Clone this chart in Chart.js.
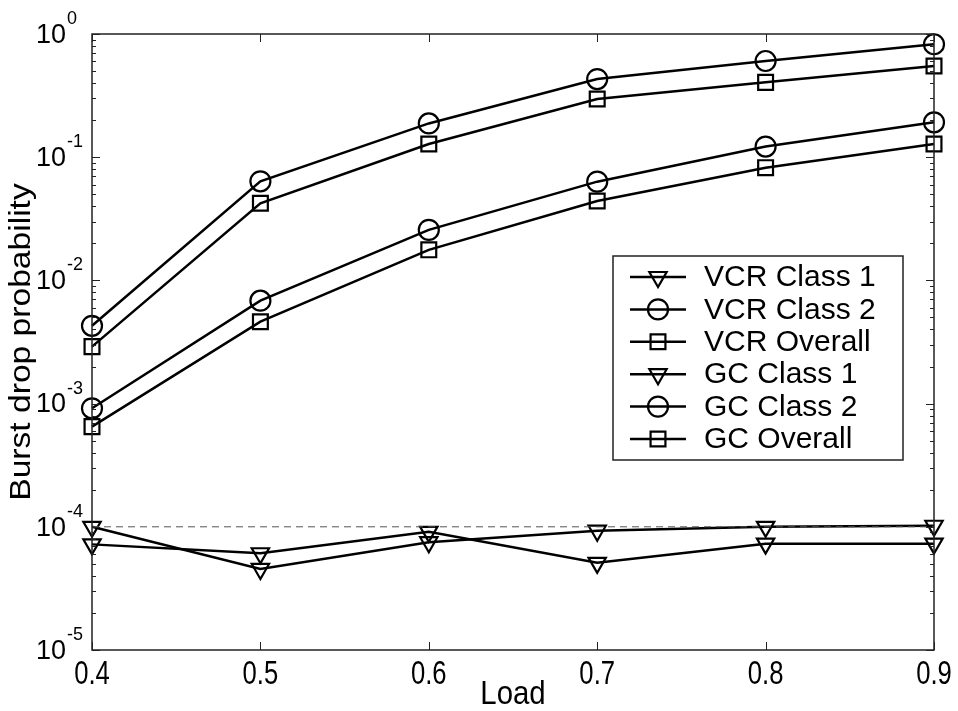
<!DOCTYPE html>
<html>
<head>
<meta charset="utf-8">
<script src="https://cdn.jsdelivr.net/npm/chart.js@4.4.1/dist/chart.umd.min.js"></script>
<style>
  html, body { margin: 0; padding: 0; background: #fff; }
  #wrap { width: 958px; height: 711px; position: relative; }
</style>
</head>
<body>
<div id="wrap"><canvas id="burstChart"></canvas></div>
<script>
// values
const loads = [0.4, 0.5, 0.6, 0.7, 0.8, 0.9];
const vcrClass1 = [1.0e-4, 4.55e-5, 7.5e-5, 9.3e-5, 1.0e-4, 1.02e-4];
const vcrClass2 = [0.00428, 0.0637, 0.188, 0.431, 0.604, 0.826];
const vcrOverall = [0.0029, 0.0423, 0.128, 0.297, 0.405, 0.55];
const gcClass1 = [7.2e-5, 6.1e-5, 9.1e-5, 5.1e-5, 7.3e-5, 7.3e-5];
const gcClass2 = [0.000916, 0.00684, 0.0257, 0.0633, 0.122, 0.192];
const gcOverall = [0.00065, 0.00462, 0.0177, 0.0441, 0.0822, 0.128];
const refLevel = [1e-4, 1e-4, 1e-4, 1e-4, 1e-4, 1e-4];

const xTicks = [0.4, 0.5, 0.6, 0.7, 0.8, 0.9];
const yTicks = [1e-5, 1e-4, 1e-3, 1e-2, 1e-1, 1];
const yExponents = ['-5', '-4', '-3', '-2', '-1', '0'];

const FONT = '"Liberation Sans", Arial, Helvetica, sans-serif';
const radiusFor = { circle: 10, rect: 10.5, triangle: 10 };

function series(label, values, style) {
    return {
        label: label,
        data: values.map((v, i) => ({ x: loads[i], y: v })),
        borderColor: '#000',
        borderWidth: 2.5,
        pointStyle: style,
        pointRadius: radiusFor[style],
        pointRotation: style === 'triangle' ? 180 : 0,
        pointBorderWidth: 2.2,
        pointBorderColor: '#000',
        pointBackgroundColor: 'rgba(0,0,0,0)',
        tension: 0,
        clip: false
    };
}

const datasets = [
    {
        label: 'ref',
        data: refLevel.map((v, i) => ({ x: loads[i], y: v })),
        borderColor: '#555',
        borderWidth: 1,
        borderDash: [7, 5],
        pointRadius: 0,
        clip: false
    },
    series('VCR Class 1', vcrClass1, 'triangle'),
    series('VCR Class 2', vcrClass2, 'circle'),
    series('VCR Overall', vcrOverall, 'rect'),
    series('GC Class 1', gcClass1, 'triangle'),
    series('GC Class 2', gcClass2, 'circle'),
    series('GC Overall', gcOverall, 'rect')
];

function marker(ctx, style, x, y) {
    const r = radiusFor[style];
    ctx.beginPath();
    if (style === 'circle') {
        ctx.arc(x, y, r, 0, Math.PI * 2);
    } else if (style === 'rect') {
        const s = r * Math.SQRT1_2;
        ctx.rect(x - s, y - s, 2 * s, 2 * s);
    } else {
        ctx.moveTo(x, y + r);
        ctx.lineTo(x - r * 0.866, y - r * 0.5);
        ctx.lineTo(x + r * 0.866, y - r * 0.5);
        ctx.closePath();
    }
    ctx.stroke();
}

// text a bit taller than wide, like the exported figure
function tallText(ctx, txt, x, y, sx, sy) {
    ctx.save();
    ctx.translate(x, y);
    ctx.scale(sx, sy);
    ctx.fillText(txt, 0, 0);
    ctx.restore();
}

const matlabAxes = {
    id: 'matlabAxes',
    afterDraw(chart) {
        const ctx = chart.ctx;
        const a = chart.chartArea;
        const xs = chart.scales.x, ys = chart.scales.y;
        ctx.save();
        ctx.strokeStyle = '#222';
        ctx.lineWidth = 1.5;
        ctx.strokeRect(a.left, a.top, a.right - a.left, a.bottom - a.top);

        // inward ticks
        ctx.lineWidth = 1;
        ctx.beginPath();
        xTicks.forEach(t => {
            const px = Math.round(xs.getPixelForValue(t)) + 0.5;
            ctx.moveTo(px, a.bottom); ctx.lineTo(px, a.bottom - 8);
            ctx.moveTo(px, a.top); ctx.lineTo(px, a.top + 8);
        });
        for (let e = -5; e <= 0; e++) {
            for (let k = 1; k <= 9; k++) {
                const v = k * Math.pow(10, e);
                if (v > 1) break;
                const py = Math.round(ys.getPixelForValue(v)) + 0.5;
                const len = k === 1 ? 8 : 4;
                ctx.moveTo(a.left, py); ctx.lineTo(a.left + len, py);
                ctx.moveTo(a.right, py); ctx.lineTo(a.right - len, py);
            }
        }
        ctx.stroke();

        // tick labels
        ctx.fillStyle = '#000';
        ctx.font = '27px ' + FONT;
        ctx.textAlign = 'center';
        ctx.textBaseline = 'middle';
        xTicks.forEach(t => {
            tallText(ctx, t.toFixed(1), xs.getPixelForValue(t), a.bottom + 25, 0.95, 1.2);
        });
        yTicks.forEach((t, i) => {
            const py = ys.getPixelForValue(t);
            ctx.font = '27px ' + FONT;
            ctx.textAlign = 'right';
            ctx.textBaseline = 'middle';
            tallText(ctx, '10', 66, py + 1, 1, 1.05);
            ctx.font = '18px ' + FONT;
            ctx.textAlign = 'left';
            ctx.textBaseline = 'alphabetic';
            ctx.fillText(yExponents[i], 67, py - 10);
        });

        // axis titles
        ctx.font = '28px ' + FONT;
        ctx.textAlign = 'center';
        ctx.textBaseline = 'middle';
        tallText(ctx, 'Load', (a.left + a.right) / 2, 695, 1.05, 1.2);
        ctx.save();
        ctx.translate(22, (a.top + a.bottom) / 2);
        ctx.rotate(-Math.PI / 2);
        ctx.scale(1.2, 1.05);
        ctx.fillText('Burst drop probability', 0, 0);
        ctx.restore();

        // legend
        const lx = 613, ly = 256, lw = 290, lh = 204;
        ctx.fillStyle = '#fff';
        ctx.fillRect(lx, ly, lw, lh);
        ctx.strokeStyle = '#222';
        ctx.lineWidth = 1.5;
        ctx.strokeRect(lx, ly, lw, lh);
        ctx.font = '30px ' + FONT;
        ctx.textAlign = 'left';
        ctx.textBaseline = 'middle';
        chart.data.datasets.slice(1).forEach((ds, i) => {
            const y = ly + 21 + i * 32.4;
            ctx.strokeStyle = '#000';
            ctx.lineWidth = 2.5;
            ctx.beginPath();
            ctx.moveTo(630, y); ctx.lineTo(686, y);
            ctx.stroke();
            ctx.lineWidth = 2.2;
            marker(ctx, ds.pointStyle, 658, y);
            ctx.fillStyle = '#000';
            ctx.fillText(ds.label, 704, y + 1);
        });
        ctx.restore();
    }
};

new Chart(document.getElementById('burstChart'), {
    type: 'line',
    data: { datasets: datasets },
    options: {
        responsive: true,
        maintainAspectRatio: false,
        animation: false,
        layout: { padding: { left: 92, right: 24, top: 34, bottom: 61 } },
        plugins: { legend: { display: false }, tooltip: { enabled: false } },
        scales: {
            x: { type: 'linear', min: 0.4, max: 0.9, display: false },
            y: { type: 'logarithmic', min: 1e-5, max: 1, display: false }
        }
    },
    plugins: [matlabAxes]
});
</script>
</body>
</html>
